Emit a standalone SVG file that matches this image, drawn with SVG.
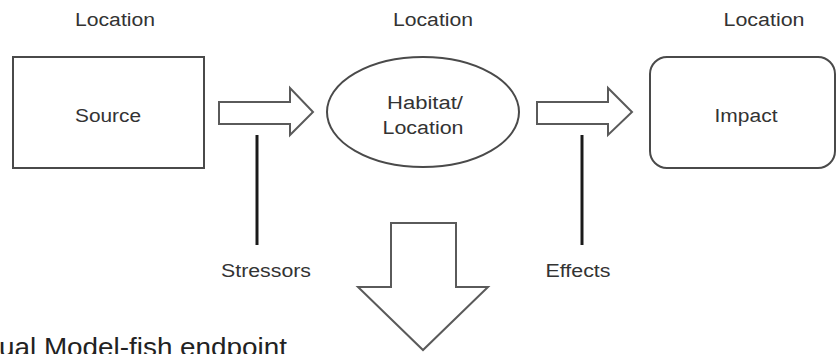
<svg xmlns="http://www.w3.org/2000/svg" width="838" height="354" viewBox="0 0 838 354">
  <style>
    .bg { fill: #ffffff; }
    .shape { fill: #ffffff; stroke: #4a4a4a; stroke-width: 2; }
    .block { fill: #ffffff; stroke: #5a5a5a; stroke-width: 2; stroke-linejoin: miter; }
    .tick { stroke: #1a1a1a; stroke-width: 3; fill: none; }
    .lbl { font-family: "Liberation Sans", Arial, sans-serif; font-size: 18px; fill: #333333; text-anchor: middle; }
    .title { font-family: "Liberation Sans", Arial, sans-serif; font-size: 26px; fill: #222222; }
  </style>
  <rect class="bg" x="0" y="0" width="838" height="354"/>

  <!-- location headings -->
  <g id="headings">
    <text class="lbl" x="115" y="26" textLength="80" lengthAdjust="spacingAndGlyphs">Location</text>
    <text class="lbl" x="433" y="26" textLength="80" lengthAdjust="spacingAndGlyphs">Location</text>
    <text class="lbl" x="764" y="26" textLength="81" lengthAdjust="spacingAndGlyphs">Location</text>
  </g>

  <g id="source">
    <rect class="shape" x="13" y="57" width="191" height="111"/>
    <text class="lbl" x="108" y="122" textLength="66" lengthAdjust="spacingAndGlyphs">Source</text>
  </g>

  <g id="habitat">
    <ellipse class="shape" cx="423" cy="112" rx="96" ry="55"/>
    <text class="lbl" x="425" y="109" textLength="76" lengthAdjust="spacingAndGlyphs">Habitat/</text>
    <text class="lbl" x="423" y="134" textLength="81" lengthAdjust="spacingAndGlyphs">Location</text>
  </g>

  <g id="impact">
    <rect class="shape" x="650" y="57" width="185" height="111" rx="17" ry="17"/>
    <text class="lbl" x="746" y="122" textLength="63" lengthAdjust="spacingAndGlyphs">Impact</text>
  </g>

  <!-- block arrows and label ticks -->
  <g id="connectors">
    <polygon class="block" points="219,102 290,102 290,88 313,112 290,135 290,124 219,124"/>
    <polygon class="block" points="537,102 608,102 608,88 632,112 608,135 608,124 537,124"/>
    <polygon class="block" points="391,223 456,223 456,287 488,287 423,350 358,287 391,287"/>
    <line class="tick" x1="257" y1="135" x2="257" y2="245"/>
    <line class="tick" x1="582" y1="135" x2="582" y2="245"/>
  </g>

  <g id="stressors">
    <text class="lbl" x="266" y="277" textLength="90" lengthAdjust="spacingAndGlyphs">Stressors</text>
  </g>
  <g id="effects">
    <text class="lbl" x="578" y="277" textLength="65" lengthAdjust="spacingAndGlyphs">Effects</text>
  </g>

  <text class="title" x="-1" y="356" textLength="288" lengthAdjust="spacingAndGlyphs">ual Model-fish endpoint</text>
</svg>
